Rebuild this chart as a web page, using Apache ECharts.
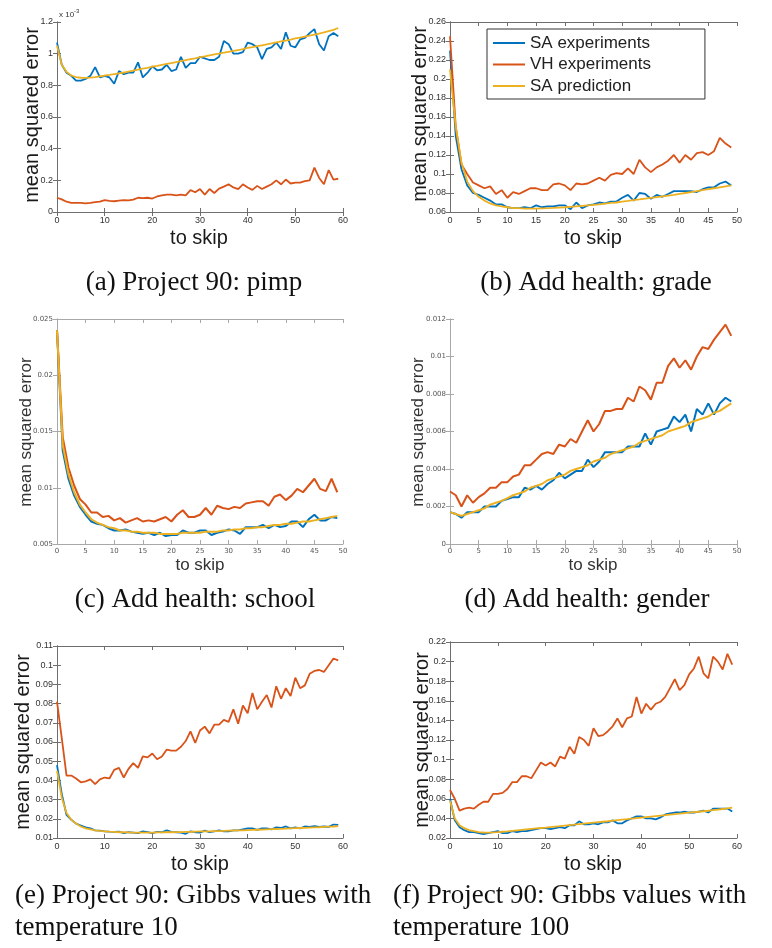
<!DOCTYPE html>
<html><head><meta charset="utf-8">
<script src="https://cdn.jsdelivr.net/npm/echarts@6/dist/echarts.min.js"></script>
<style>html,body{margin:0;padding:0;background:#fff}#c{width:772px;height:948px}</style>
</head><body><div id="c"></div>
<script>
// ---------- data ----------
// (a) Project 90: pimp  (values in units of 1e-3)
const aSA   = [1.07,0.93,0.88,0.86,0.83,0.83,0.84,0.86,0.915,0.85,0.86,0.85,0.81,0.89,0.87,0.88,0.88,0.945,0.85,0.88,0.92,0.895,0.90,0.93,0.89,0.90,0.98,0.91,0.94,0.94,0.98,0.97,0.96,0.96,0.98,1.08,1.06,1.0,1.0,1.01,1.07,1.06,1.04,0.965,1.03,1.04,1.07,1.03,1.135,1.05,1.04,1.09,1.10,1.13,1.155,1.06,1.02,1.11,1.13,1.11];
const aVH   = [0.09,0.08,0.065,0.058,0.058,0.057,0.055,0.058,0.062,0.065,0.075,0.07,0.068,0.072,0.075,0.074,0.078,0.09,0.088,0.09,0.085,0.098,0.105,0.11,0.11,0.105,0.11,0.105,0.138,0.125,0.145,0.11,0.145,0.12,0.148,0.16,0.175,0.155,0.145,0.175,0.155,0.14,0.165,0.145,0.16,0.175,0.2,0.175,0.205,0.18,0.185,0.185,0.195,0.2,0.28,0.215,0.175,0.265,0.205,0.21];
const aPred = [1.05,0.93,0.885,0.862,0.852,0.848,0.847,0.849,0.852,0.857,0.862,0.866,0.871,0.876,0.881,0.887,0.893,0.899,0.905,0.911,0.918,0.923,0.929,0.935,0.941,0.947,0.953,0.959,0.965,0.971,0.978,0.983,0.989,0.995,1.0,1.006,1.012,1.017,1.023,1.029,1.036,1.041,1.047,1.053,1.059,1.065,1.071,1.077,1.083,1.089,1.096,1.102,1.108,1.114,1.12,1.127,1.134,1.142,1.15,1.162];
// (b) Add health: grade
const bSA   = [0.23,0.14,0.105,0.088,0.08,0.078,0.075,0.072,0.068,0.068,0.065,0.064,0.064,0.065,0.064,0.067,0.065,0.066,0.066,0.067,0.067,0.063,0.07,0.064,0.067,0.068,0.07,0.069,0.071,0.071,0.075,0.078,0.072,0.08,0.079,0.074,0.078,0.076,0.079,0.082,0.082,0.082,0.082,0.081,0.084,0.086,0.086,0.09,0.092,0.088];
const bVH   = [0.245,0.15,0.11,0.1,0.091,0.088,0.085,0.087,0.079,0.083,0.075,0.081,0.079,0.082,0.085,0.085,0.083,0.083,0.089,0.09,0.088,0.083,0.09,0.089,0.09,0.093,0.096,0.093,0.099,0.101,0.1,0.106,0.1,0.115,0.107,0.102,0.107,0.11,0.114,0.12,0.112,0.12,0.115,0.122,0.123,0.12,0.124,0.138,0.132,0.128];
const bPred = [0.21,0.15,0.112,0.092,0.082,0.076,0.072,0.069,0.067,0.066,0.065,0.064,0.064,0.0635,0.0635,0.0635,0.0638,0.064,0.0643,0.0647,0.065,0.0655,0.066,0.0665,0.067,0.0676,0.068,0.0688,0.0695,0.07,0.071,0.0717,0.0725,0.0732,0.074,0.0748,0.0756,0.0764,0.0772,0.078,0.079,0.08,0.081,0.082,0.083,0.084,0.085,0.086,0.087,0.088];
// (c) Add health: school
const cSA   = [0.024,0.0133,0.0108,0.0093,0.0083,0.0076,0.007,0.0068,0.0067,0.0064,0.0062,0.0062,0.0063,0.0061,0.006,0.0059,0.006,0.0058,0.006,0.0057,0.0058,0.0058,0.0062,0.006,0.006,0.0062,0.0062,0.0058,0.006,0.0061,0.0063,0.0062,0.0059,0.0065,0.0065,0.0065,0.0067,0.0064,0.0067,0.0065,0.0066,0.007,0.007,0.0065,0.0072,0.0076,0.0071,0.0071,0.0074,0.0073];
const cVH   = [0.024,0.0145,0.0118,0.0102,0.009,0.0085,0.0078,0.0078,0.0074,0.0075,0.0071,0.0073,0.0069,0.0071,0.0073,0.007,0.0071,0.007,0.0072,0.0074,0.007,0.0076,0.008,0.0074,0.0074,0.0076,0.0082,0.0076,0.0084,0.0082,0.0081,0.0083,0.0082,0.0086,0.0087,0.0088,0.0088,0.0084,0.0092,0.0094,0.0089,0.0093,0.0099,0.0096,0.0102,0.0108,0.0099,0.0097,0.0108,0.0096];
const cPred = [0.024,0.0138,0.0112,0.0096,0.0085,0.0078,0.0072,0.0069,0.0067,0.0065,0.0064,0.0062,0.0062,0.0061,0.0061,0.006,0.006,0.006,0.0059,0.0059,0.0059,0.0059,0.006,0.006,0.006,0.006,0.0061,0.0061,0.0061,0.0062,0.0062,0.0063,0.0063,0.0064,0.0064,0.0065,0.0065,0.0066,0.0067,0.0067,0.0068,0.0068,0.0069,0.007,0.007,0.0071,0.0072,0.0073,0.0074,0.0075];
// (d) Add health: gender
const dSA   = [0.0017,0.0016,0.0014,0.0017,0.0017,0.0017,0.002,0.002,0.002,0.0023,0.0024,0.0025,0.0025,0.003,0.0029,0.0031,0.0029,0.0032,0.0034,0.0038,0.0035,0.0037,0.0039,0.0039,0.0045,0.0041,0.0044,0.0049,0.0049,0.0049,0.0049,0.0052,0.0052,0.0052,0.0059,0.0053,0.006,0.0061,0.0062,0.0068,0.0065,0.0069,0.006,0.0072,0.0069,0.0075,0.0069,0.0075,0.0078,0.0076];
const dVH   = [0.0028,0.0026,0.002,0.0026,0.0022,0.0025,0.0027,0.003,0.003,0.0033,0.0033,0.0036,0.0037,0.0042,0.0042,0.0045,0.0048,0.0049,0.0048,0.0053,0.0052,0.0056,0.0054,0.006,0.0066,0.006,0.0064,0.0071,0.0071,0.0072,0.0072,0.0078,0.0076,0.0084,0.0082,0.0077,0.0086,0.0086,0.0095,0.0099,0.0094,0.0098,0.0093,0.01,0.0105,0.0104,0.0109,0.0113,0.0117,0.0111];
const dPred = [0.0017,0.0016,0.0015,0.0016,0.0017,0.0018,0.0019,0.0021,0.0022,0.0023,0.00245,0.0026,0.0027,0.0028,0.003,0.0031,0.0032,0.0034,0.0035,0.0036,0.0037,0.0039,0.004,0.0041,0.0042,0.0044,0.0045,0.0046,0.0048,0.0049,0.005,0.0051,0.0052,0.0054,0.0055,0.0056,0.0057,0.0058,0.006,0.0061,0.0062,0.0063,0.0065,0.0066,0.0067,0.0068,0.007,0.0071,0.0073,0.0075];
// (e) Project 90: Gibbs values with temperature 10
const eSA   = [0.048,0.033,0.022,0.0195,0.0175,0.0165,0.0155,0.015,0.014,0.0138,0.0135,0.0133,0.0132,0.0133,0.0125,0.013,0.0128,0.0125,0.0135,0.013,0.0125,0.0132,0.013,0.014,0.0132,0.013,0.0128,0.0122,0.0135,0.013,0.0128,0.0138,0.013,0.0135,0.014,0.0135,0.0135,0.014,0.014,0.0145,0.015,0.015,0.0142,0.015,0.015,0.0145,0.0155,0.0152,0.016,0.015,0.0155,0.015,0.016,0.0158,0.0162,0.0158,0.016,0.0158,0.017,0.0168];
const eVH   = [0.081,0.062,0.0425,0.0425,0.041,0.039,0.0395,0.0405,0.038,0.0405,0.0415,0.041,0.0455,0.0465,0.0415,0.046,0.049,0.0465,0.0525,0.052,0.054,0.051,0.0525,0.056,0.0555,0.0555,0.0575,0.0605,0.0655,0.0595,0.066,0.068,0.0645,0.069,0.069,0.0715,0.0705,0.077,0.0695,0.079,0.075,0.0855,0.077,0.081,0.0845,0.078,0.089,0.0825,0.088,0.084,0.0935,0.088,0.0895,0.0955,0.097,0.0975,0.0965,0.1,0.1035,0.1025];
const ePred = [0.045,0.031,0.023,0.0195,0.0175,0.016,0.015,0.0145,0.014,0.0137,0.0135,0.0133,0.0132,0.013,0.013,0.0129,0.0128,0.0128,0.0128,0.0128,0.0128,0.0129,0.0129,0.013,0.013,0.0131,0.0131,0.0132,0.0132,0.0133,0.0134,0.0134,0.0135,0.0136,0.0136,0.0137,0.0138,0.0139,0.014,0.014,0.0141,0.0142,0.0143,0.0144,0.0145,0.0146,0.0147,0.0148,0.0149,0.015,0.0151,0.0152,0.0153,0.0154,0.0155,0.0156,0.0158,0.0159,0.016,0.0162];
// (f) Project 90: Gibbs values with temperature 100
const fSA   = [0.06,0.038,0.031,0.028,0.026,0.026,0.025,0.024,0.025,0.026,0.027,0.025,0.025,0.027,0.026,0.027,0.027,0.028,0.029,0.03,0.03,0.029,0.03,0.031,0.03,0.033,0.033,0.037,0.034,0.034,0.035,0.034,0.036,0.036,0.038,0.035,0.035,0.038,0.04,0.042,0.042,0.04,0.04,0.039,0.041,0.044,0.045,0.046,0.046,0.047,0.046,0.046,0.047,0.048,0.046,0.05,0.05,0.05,0.05,0.047];
const fVH   = [0.069,0.06,0.048,0.05,0.051,0.05,0.054,0.057,0.057,0.065,0.065,0.066,0.07,0.077,0.077,0.083,0.083,0.081,0.089,0.097,0.094,0.097,0.093,0.103,0.101,0.113,0.106,0.123,0.12,0.114,0.132,0.124,0.125,0.129,0.134,0.142,0.133,0.142,0.144,0.164,0.147,0.157,0.151,0.157,0.159,0.164,0.173,0.182,0.171,0.176,0.187,0.193,0.205,0.188,0.183,0.205,0.2,0.192,0.208,0.197];
const fPred = [0.058,0.04,0.033,0.03,0.028,0.027,0.026,0.0256,0.0255,0.0257,0.026,0.0264,0.0268,0.0273,0.0278,0.0283,0.0288,0.0293,0.0298,0.0302,0.0306,0.0311,0.0316,0.0321,0.0326,0.0331,0.0336,0.0341,0.0346,0.0351,0.0356,0.0361,0.0366,0.0371,0.0377,0.0382,0.0387,0.0392,0.0398,0.0403,0.0408,0.0413,0.0418,0.0423,0.0428,0.0433,0.0438,0.0443,0.0448,0.0453,0.0458,0.0463,0.0468,0.0473,0.0478,0.0484,0.049,0.0496,0.0502,0.051];

const seriesNames = ['SA experiments', 'VH experiments', 'SA prediction'];
const captions = ['(a) Project 90: pimp', '(b) Add health: grade', '(c) Add health: school', '(d) Add health: gender',
  '(e) Project 90: Gibbs values with', 'temperature 10', '(f) Project 90: Gibbs values with', 'temperature 100'];
const xTitle = 'to skip', yTitle = 'mean squared error';

// axis ranges per panel: [xMax, xStep, yMin, yMax, yStep]
const rangeA = [60, 10, 0, 1.2, 0.2];
const rangeB = [50, 5, 0.06, 0.26, 0.02];
const rangeC = [50, 5, 0.005, 0.025, 0.005];
const rangeD = [50, 5, 0, 0.012, 0.002];
const rangeE = [60, 10, 0.01, 0.11, 0.01];
const rangeF = [60, 10, 0.02, 0.22, 0.02];

// ---------- layout / style ----------
const COL = ['#0072BD', '#D95319', '#EDB120'];
const looks = {
  old: {box: '#6e6e6e', lab: '#333', labFont: 'Liberation Sans', labSize: 9, tFont: 'Liberation Sans', tSize: 20, tCol: '#1a1a1a', lw: 1.8},
  neu: {box: '#a8a8a8', lab: '#555', labFont: 'DejaVu Sans', labSize: 7, tFont: 'Liberation Sans', tSize: 17, tCol: '#333', lw: 2}
};
const panels = [
  {d: [aSA, aVH, aPred], r: rangeA, g: {left: 57, top: 22, width: 286, height: 190}, look: 'old', yt: [32, 115], xt: [199, 238]},
  {d: [bSA, bVH, bPred], r: rangeB, g: {left: 450, top: 22, width: 287, height: 190}, look: 'old', yt: [420, 114], xt: [593, 238]},
  {d: [cSA, cVH, cPred], r: rangeC, g: {left: 57, top: 319, width: 286, height: 225}, look: 'neu', yt: [26, 432], xt: [200, 565]},
  {d: [dSA, dVH, dPred], r: rangeD, g: {left: 450, top: 319, width: 287, height: 225}, look: 'neu', yt: [418, 432], xt: [593, 565]},
  {d: [eSA, eVH, ePred], r: rangeE, g: {left: 57, top: 646, width: 286, height: 192}, look: 'old', yt: [23, 742], xt: [200, 864]},
  {d: [fSA, fVH, fPred], r: rangeF, g: {left: 450, top: 642, width: 287, height: 196}, look: 'old', yt: [422, 740], xt: [593, 864]}
];

const fmt = v => String(+v.toFixed(6));
const grid = [], xAxis = [], yAxis = [], series = [], graphic = [];
panels.forEach((p, i) => {
  const L = looks[p.look];
  const [xMax, xStep, yMin, yMax, yStep] = p.r;
  grid.push(Object.assign({containLabel: false}, p.g));
  const line = {show: true, lineStyle: {color: L.box, width: 1}};
  const tick = {show: true, inside: true, length: 4, lineStyle: {color: L.box, width: 1}};
  const lab = {color: L.lab, fontFamily: L.labFont, fontSize: L.labSize, formatter: fmt};
  ['bottom', 'top'].forEach(pos => xAxis.push({
    type: 'value', gridIndex: i, position: pos, min: 0, max: xMax, interval: xStep,
    axisLine: line, axisTick: tick, splitLine: {show: false},
    axisLabel: pos === 'bottom' ? Object.assign({margin: 4}, lab) : {show: false}
  }));
  ['left', 'right'].forEach(pos => yAxis.push({
    type: 'value', gridIndex: i, position: pos, min: yMin, max: yMax, interval: yStep,
    axisLine: line, axisTick: tick, splitLine: {show: false},
    axisLabel: pos === 'left' ? Object.assign({margin: 4}, lab) : {show: false}
  }));
  p.d.forEach((arr, k) => series.push({
    type: 'line', name: seriesNames[k], xAxisIndex: 2 * i, yAxisIndex: 2 * i,
    data: arr.map((v, j) => [j, v]), symbol: 'none', showSymbol: false, color: COL[k],
    lineStyle: {width: L.lw, color: COL[k]}, z: 2 + k, silent: true
  }));
  graphic.push({type: 'text', x: p.yt[0], y: p.yt[1], rotation: Math.PI / 2,
    style: {text: yTitle, font: `${L.tSize}px "${L.tFont}"`, fill: L.tCol, textAlign: 'center', textVerticalAlign: 'middle', align: 'center', verticalAlign: 'middle'}});
  graphic.push({type: 'text', x: p.xt[0], y: p.xt[1],
    style: {text: xTitle, font: `${L.tSize}px "${L.tFont}"`, fill: L.tCol, textAlign: 'center', textVerticalAlign: 'middle', align: 'center', verticalAlign: 'middle'}});
});

// multiplier for panel (a)
graphic.push({type: 'text', x: 59, y: 15, style: {text: 'x 10', font: '8px "Liberation Sans"', fill: '#333', textAlign: 'left', textVerticalAlign: 'middle', align: 'left', verticalAlign: 'middle'}});
graphic.push({type: 'text', x: 74, y: 11, style: {text: '-3', font: '6px "Liberation Sans"', fill: '#333', textAlign: 'left', textVerticalAlign: 'middle', align: 'left', verticalAlign: 'middle'}});

// captions
const capFont = '27px "Liberation Serif"';
const capPos = [[194, 283, 'center'], [596, 283, 'center'], [195, 600, 'center'], [587, 600, 'center'],
  [15, 896, 'left'], [15, 928, 'left'], [393, 896, 'left'], [393, 928, 'left']];
captions.forEach((t, i) => graphic.push({type: 'text', x: capPos[i][0], y: capPos[i][1],
  style: {text: t, font: capFont, fill: '#111', textAlign: capPos[i][2], textVerticalAlign: 'middle', align: capPos[i][2], verticalAlign: 'middle'}}));

const chart = echarts.init(document.getElementById('c'), null, {renderer: 'canvas'});
chart.setOption({
  animation: false,
  backgroundColor: '#fff',
  grid, xAxis, yAxis, series, graphic,
  legend: {
    data: seriesNames, orient: 'vertical', left: 487, top: 29,
    icon: 'rect', itemWidth: 32, itemHeight: 2, itemGap: 1.5,
    padding: [4, 54, 3, 6], borderColor: '#333', borderWidth: 1, backgroundColor: '#fff',
    textStyle: {fontFamily: 'Liberation Sans', fontSize: 17, color: '#222', lineHeight: 20},
    selectedMode: false
  }
});
</script>
</body></html>
